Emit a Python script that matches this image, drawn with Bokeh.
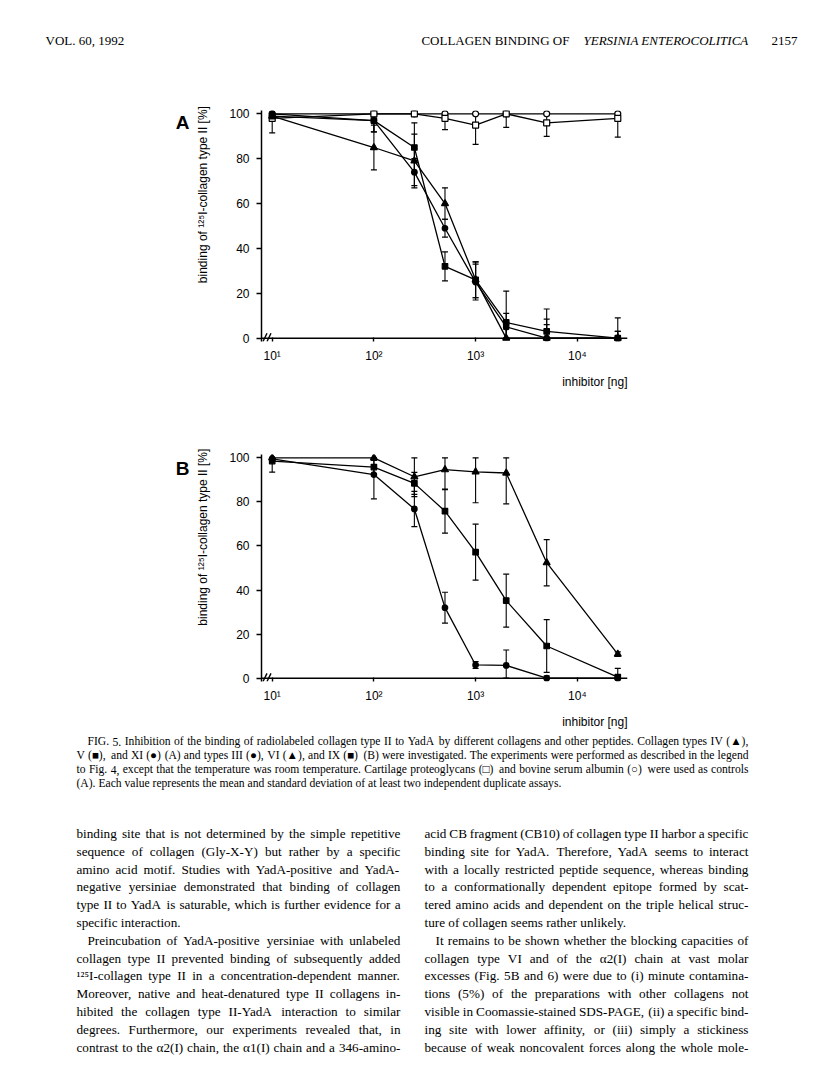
import numpy as np
from bokeh.plotting import figure
from bokeh.models import (Range1d, FixedTicker, Span, ColumnDataSource,
                          LinearAxis, Title)
from bokeh.core.properties import value
from bokeh.embed import file_html
from bokeh.resources import INLINE

# ---------------- data ----------------
inhibitor_ng = [10, 100, 250, 500, 1000, 2000, 5000, 25000]
x_tick_values = [10, 100, 1000, 10000]
x_tick_labels = ["10¹", "10²", "10³", "10⁴"]
y_tick_values = [0, 20, 40, 60, 80, 100]

# Panel A: bovine serum albumin (open circle), cartilage proteoglycans (open square),
# collagen IV (filled triangle), V (filled square), XI (filled circle)
a_bsa = [100, 100, 100, 100, 100, 100, 100, 100]
a_bsa_sd = [0, 0, 0, 0, 0, 0, 0, 0]
a_pg = [98, 100, 100, 98, 95, 100, 96, 98]
a_pg_sd = [6.5, 0, 0, 5, 8.6, 6, 6, 8.4]
a_iv = [99, 85, 79, 60, 26, 0, 0, 0]
a_iv_sd = [2, 10, 12, 7, 8, 4, 6, 3]
a_v = [99, 97, 85, 32, 26, 7, 3, 0]
a_v_sd = [1, 5, 11, 6.5, 8, 14, 10, 9]
a_xi = [100, 97, 74, 49, 25, 5, 0, 0]
a_xi_sd = [1, 5, 6, 4, 8, 6, 8.5, 3]

# Panel B: collagen III (filled circle), VI (filled triangle), IX (filled square)
b_iii = [99.5, 92.4, 76.8, 32, 6, 5.8, 0, 0]
b_iii_sd = [1, 11, 8, 7, 1.5, 7, 1, 0]
b_vi = [100, 100, 91.4, 94.6, 93.6, 93.1, 52.4, 10.9]
b_vi_sd = [0, 0, 9, 9, 14, 14, 10.5, 1]
b_ix = [98.5, 95.8, 88.4, 75.8, 57.2, 35.2, 14.6, 0.5]
b_ix_sd = [5, 3, 5, 10, 12.7, 12, 12, 4]

# ---------------- texts ----------------
header_left = "VOL. 60, 1992"
header_mid = "COLLAGEN BINDING OF"
header_italic = "YERSINIA ENTEROCOLITICA"
header_page = "2157"
y_label = "binding of ¹²⁵I-collagen type II [%]"
x_label = "inhibitor [ng]"

caption_lines = [
    "FIG. 5.  Inhibition of the binding of radiolabeled collagen type II to YadA by different collagens and other peptides. Collagen types IV (▲),",
    "V (■), and XI (●) (A) and types III (●), VI (▲), and IX (■) (B) were investigated. The experiments were performed as described in the legend",
    "to Fig. 4, except that the temperature was room temperature. Cartilage proteoglycans (□) and bovine serum albumin (○) were used as controls",
    "(A). Each value represents the mean and standard deviation of at least two independent duplicate assays.",
]
left_column_lines = [
    "binding site that is not determined by the simple repetitive",
    "sequence of collagen (Gly-X-Y) but rather by a specific",
    "amino acid motif. Studies with YadA-positive and YadA-",
    "negative yersiniae demonstrated that binding of collagen",
    "type II to YadA is saturable, which is further evidence for a",
    "specific interaction.",
    "Preincubation of YadA-positive yersiniae with unlabeled",
    "collagen type II prevented binding of subsequently added",
    "¹²⁵I-collagen type II in a concentration-dependent manner.",
    "Moreover, native and heat-denatured type II collagens in-",
    "hibited the collagen type II-YadA interaction to similar",
    "degrees. Furthermore, our experiments revealed that, in",
    "contrast to the α2(I) chain, the α1(I) chain and a 346-amino-",
]
right_column_lines = [
    "acid CB fragment (CB10) of collagen type II harbor a specific",
    "binding site for YadA. Therefore, YadA seems to interact",
    "with a locally restricted peptide sequence, whereas binding",
    "to a conformationally dependent epitope formed by scat-",
    "tered amino acids and dependent on the triple helical struc-",
    "ture of collagen seems rather unlikely.",
    "It remains to be shown whether the blocking capacities of",
    "collagen type VI and of the α2(I) chain at vast molar",
    "excesses (Fig. 5B and 6) were due to (i) minute contamina-",
    "tions (5%) of the preparations with other collagens not",
    "visible in Coomassie-stained SDS-PAGE, (ii) a specific bind-",
    "ing site with lower affinity, or (iii) simply a stickiness",
    "because of weak noncovalent forces along the whole mole-",
]
indented_line = 6
paragraph_end_left = [5]
paragraph_end_right = [5]
paragraph_end_caption = [3]

# ---------------- layout constants ----------------
SANS = "Liberation Sans"
SERIF = "Liberation Serif"
W = 800
LOG_LO, LOG_HI = 0.8948, 4.4936
PX_DEC = 101.7
FRAME_L, FRAME_W, FRAME_H = 261, 366, 231
Y_LO, Y_HI = -1.5, 101.5
COL_L = (76, 400)
COL_R = (424, 748)
BODY_SIZE = 13.2
CAP_SIZE = 11.6
BODY_LEADING = 17.8

# Times-compatible advance widths (1/1000 em) for simple justification
_TW = {" ": 250, "!": 333, "%": 833, "&": 778, "'": 333, "(": 333, ")": 333,
       ",": 250, "-": 333, ".": 250, "/": 278, ":": 278, ";": 278, "?": 444,
       "[": 333, "]": 333, "α": 520, "¹": 300, "²": 300, "⁵": 300,
       "▲": 1000, "■": 800, "●": 650, "□": 800, "○": 800}
for _c in "0123456789":
    _TW[_c] = 500
_TW.update(dict(A=722, B=667, C=667, D=722, E=611, F=556, G=722, H=722, I=333,
                J=389, K=722, L=611, M=889, N=722, O=722, P=556, Q=722, R=667,
                S=556, T=611, U=722, V=722, W=944, X=722, Y=722, Z=611))
_TW.update(dict(a=444, b=500, c=444, d=500, e=444, f=333, g=500, h=500, i=278,
                j=278, k=500, l=278, m=778, n=500, o=500, p=500, q=500, r=333,
                s=389, t=278, u=500, v=500, w=722, x=500, y=500, z=444))


def text_width(s, size):
    return sum(_TW.get(c, 500) for c in s) * size / 1000.0


def justify(line, x0, x1, size, full):
    words = line.split()
    widths = [text_width(w, size) for w in words]
    if full and len(words) > 1:
        gap = (x1 - x0 - sum(widths)) / (len(words) - 1)
    else:
        gap = text_width(" ", size)
    xs, x = [], x0
    for w in widths:
        xs.append(x)
        x += w + gap
    return words, xs


def x_at(px):
    return 10 ** (LOG_LO + px / PX_DEC)


def text_figure(top, height):
    p = figure(width=W, height=height, x_range=Range1d(0, W),
               y_range=Range1d(top + height, top), output_backend="svg",
               toolbar_location=None, x_axis_location=None, y_axis_location=None,
               min_border=0, title=None)
    p.grid.visible = False
    p.outline_line_color = None
    return p


def panel(letter, letter_y, series, height, top_border):
    p = figure(width=W, height=height, x_axis_type="log",
               x_range=Range1d(10 ** LOG_LO, 10 ** LOG_HI),
               y_range=Range1d(Y_LO, Y_HI), output_backend="svg",
               toolbar_location=None, title=None,
               min_border_left=FRAME_L, min_border_right=W - FRAME_L - FRAME_W,
               min_border_top=top_border,
               min_border_bottom=height - top_border - FRAME_H)
    p.grid.visible = False
    p.outline_line_color = None

    xa = p.xaxis[0]
    xa.ticker = FixedTicker(ticks=x_tick_values)
    xa.major_label_overrides = dict(zip(x_tick_values, x_tick_labels))
    xa.axis_line_color = None
    xa.major_tick_in = 4
    xa.major_tick_out = 0
    xa.major_tick_line_width = 1.4
    xa.minor_tick_line_color = None
    xa.major_label_standoff = 7
    xa.major_label_text_font = SANS
    xa.major_label_text_font_size = "12px"
    xa.major_label_text_color = "black"

    ya = p.yaxis[0]
    ya.ticker = FixedTicker(ticks=y_tick_values)
    ya.axis_line_width = 1.5
    ya.axis_line_color = "black"
    ya.major_tick_in = 0
    ya.major_tick_out = 5
    ya.major_tick_line_width = 1.4
    ya.minor_tick_line_color = None
    ya.major_label_standoff = 7
    ya.major_label_text_font = SANS
    ya.major_label_text_font_size = "12px"
    ya.major_label_text_color = "black"

    lab_axis = LinearAxis(ticker=FixedTicker(ticks=[64]),
                          major_label_overrides={64: y_label},
                          major_label_orientation="vertical",
                          axis_line_color=None, major_tick_line_color=None,
                          minor_tick_line_color=None, major_tick_in=0,
                          major_tick_out=0, major_label_standoff=16,
                          major_label_text_font=SANS,
                          major_label_text_font_size="12px",
                          major_label_text_color="black")
    p.add_layout(lab_axis, "left")
    let_axis = LinearAxis(ticker=FixedTicker(ticks=[letter_y]),
                          major_label_overrides={letter_y: letter},
                          axis_line_color=None, major_tick_line_color=None,
                          minor_tick_line_color=None, major_tick_in=0,
                          major_tick_out=0, major_label_standoff=4,
                          major_label_text_font=SANS,
                          major_label_text_font_style="bold",
                          major_label_text_font_size="19px",
                          major_label_text_color="black")
    p.add_layout(let_axis, "left")
    p.add_layout(Title(text=x_label, align="right", text_font=SANS,
                       text_font_size="12px", text_font_style="normal",
                       text_color="black", standoff=14), "below")

    p.add_layout(Span(location=0, dimension="width", line_color="black", line_width=1.5))

    # axis break marks
    p.segment(x0=[x_at(1.5), x_at(5.5)], y0=[Y_LO, Y_LO],
              x1=[x_at(5.5), x_at(9.5)], y1=[2.2, 2.2],
              line_color="black", line_width=1.4)

    for ys, sd, marker, filled, size in series:
        ys = np.array(ys, dtype=float)
        sd = np.array(sd, dtype=float)
        p.line(inhibitor_ng, ys, line_color="black", line_width=1.3)
        m = sd > 0
        xs = np.array(inhibitor_ng, dtype=float)[m]
        lo = np.clip(ys[m] - sd[m], 0, 100)
        hi = np.clip(ys[m] + sd[m], 0, 100)
        src = ColumnDataSource(dict(x=xs, lo=lo, hi=hi))
        p.segment(x0="x", y0="lo", x1="x", y1="hi", source=src,
                  line_color="black", line_width=1.1)
        p.scatter("x", "lo", marker="dash", size=6, line_color="black",
                  line_width=1.2, source=src)
        p.scatter("x", "hi", marker="dash", size=6, line_color="black",
                  line_width=1.2, source=src)
    for ys, sd, marker, filled, size in series:
        p.scatter(inhibitor_ng, ys, marker=marker, size=size,
                  fill_color="black" if filled else "white",
                  line_color="black", line_width=1.2)
    return p


# header
HDR_SIZE = 13
hdr = text_figure(0, 60)
hdr_ital_w = text_width(header_italic, HDR_SIZE)
hdr_mid_x = 748 - hdr_ital_w - text_width(" ", HDR_SIZE) - text_width(header_mid, HDR_SIZE)
hdr.text(x=[45], y=[40], text=[header_left], text_font=value(SERIF),
         text_font_size="13px", text_baseline="middle", text_align="left")
hdr.text(x=[hdr_mid_x], y=[40], text=[header_mid], text_font=value(SERIF),
         text_font_size="13px", text_baseline="middle", text_align="left")
hdr.text(x=[748], y=[40], text=[header_italic], text_font=value(SERIF),
         text_font_style="italic", text_font_size="13px",
         text_baseline="middle", text_align="right")
hdr.text(x=[797], y=[40], text=[header_page], text_font=value(SERIF),
         text_font_size="13px", text_baseline="middle", text_align="right")

series_a = [
    (a_bsa, a_bsa_sd, "circle", False, 6),
    (a_pg, a_pg_sd, "square", False, 6),
    (a_iv, a_iv_sd, "triangle", True, 7),
    (a_v, a_v_sd, "square", True, 5.5),
    (a_xi, a_xi_sd, "circle", True, 5.5),
]
series_b = [
    (b_iii, b_iii_sd, "circle", True, 5.5),
    (b_vi, b_vi_sd, "triangle", True, 7),
    (b_ix, b_ix_sd, "square", True, 5.5),
]
fig_a = panel("A", 96, series_a, 338, 50)
fig_b = panel("B", 95, series_b, 337, 56)

# caption and body text (word-justified)
txt = text_figure(735, 335)


def place_block(lines, col, first_y, leading, size, indent_idx, ends):
    wx, wy, wt = [], [], []
    for i, line in enumerate(lines):
        x0 = col[0] + (11 if i in indent_idx else 0)
        words, xs = justify(line, x0, col[1], size, i not in ends)
        wt += words
        wx += xs
        wy += [first_y + leading * i] * len(words)
    txt.text(x=wx, y=wy, text=wt, text_font=value(SERIF),
             text_font_size=f"{size}px", text_baseline="middle",
             text_align="left")


place_block(caption_lines, (COL_L[0], COL_R[1]), 741, 14, CAP_SIZE, [0],
            paragraph_end_caption)
place_block(left_column_lines, COL_L, 833, BODY_LEADING, BODY_SIZE, [indented_line],
            paragraph_end_left)
place_block(right_column_lines, COL_R, 833, BODY_LEADING, BODY_SIZE, [indented_line],
            paragraph_end_right)

open("out.html", "w").write(file_html([hdr, fig_a, fig_b, txt], INLINE))
